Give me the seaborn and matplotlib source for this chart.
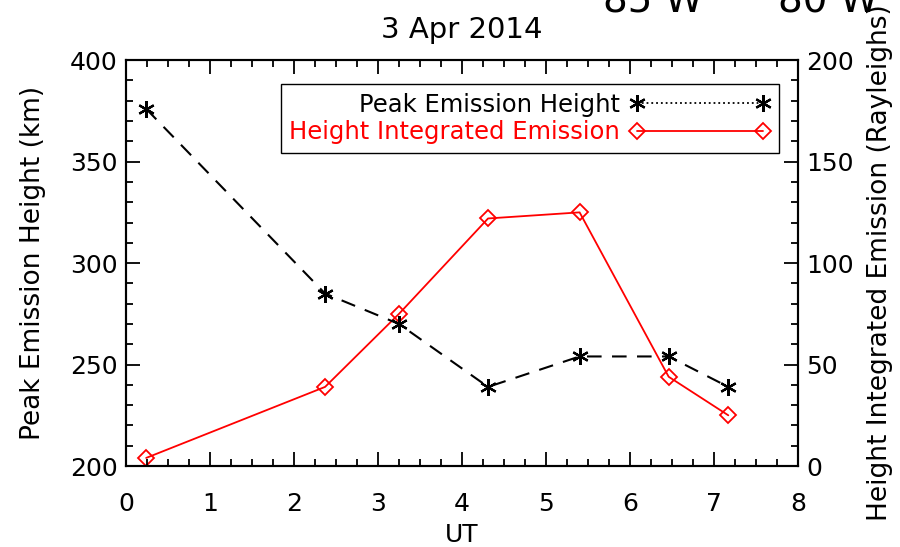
import numpy as np
import pandas as pd
import seaborn as sns
import matplotlib.pyplot as plt
from matplotlib.lines import Line2D
from matplotlib.ticker import MultipleLocator

# datos
ut = [0.24, 2.37, 3.25, 4.31, 5.40, 6.46, 7.17]
peak_height = [376, 285, 270, 239, 254, 254, 239]
integrated = [4, 39, 75, 122, 125, 44, 25]
title = "3 Apr 2014"
lon_labels = ["85 W", "80 W"]

df = pd.DataFrame({"UT": ut, "height": peak_height, "emission": integrated})

sns.set_theme(style="white")
plt.rcParams["font.family"] = ["DejaVu Sans"]
plt.rcParams["axes.edgecolor"] = "black"
plt.rcParams["axes.linewidth"] = 1.5
for k in ["text.color", "axes.labelcolor", "xtick.color", "ytick.color"]:
    plt.rcParams[k] = "black"

fig = plt.figure(figsize=(9, 5.47), dpi=100)
ax = fig.add_axes([0.14, 0.148, 0.7467, 0.742])
ax2 = ax.twinx()

asterisk = (6, 2, 0)
sns.lineplot(data=df, x="UT", y="height", ax=ax, color="black", marker=asterisk,
             markersize=12, markeredgecolor="black", markeredgewidth=1.6,
             linewidth=1.5)
ax.lines[0].set_dashes([7, 5])
sns.lineplot(data=df, x="UT", y="emission", ax=ax2, color="red", marker="D",
             markersize=8, markerfacecolor="none", markeredgecolor="red",
             markeredgewidth=1.3, linewidth=1.3)

ax.set_xlim(0, 8)
ax.set_ylim(200, 400)
ax2.set_ylim(0, 200)

ax.xaxis.set_major_locator(MultipleLocator(1))
ax.xaxis.set_minor_locator(MultipleLocator(0.25))
ax.yaxis.set_major_locator(MultipleLocator(50))
ax.yaxis.set_minor_locator(MultipleLocator(10))
ax2.yaxis.set_major_locator(MultipleLocator(50))
ax2.yaxis.set_minor_locator(MultipleLocator(10))

ax.tick_params(axis="x", which="both", direction="in", top=True, bottom=True,
               labelsize=18, pad=19)
ax.tick_params(axis="y", which="both", direction="in", left=True, right=False,
               labelsize=18, pad=6)
ax.tick_params(which="major", length=10, width=1.3)
ax.tick_params(which="minor", length=5, width=1.3)
ax2.tick_params(axis="y", which="both", direction="in", right=True, labelsize=18, pad=6)
ax2.tick_params(which="major", length=10, width=1.3)
ax2.tick_params(which="minor", length=5, width=1.3)

ax.set_xlabel("UT", fontsize=18, labelpad=5)
ax.set_ylabel("Peak Emission Height (km)", fontsize=19, labelpad=17)
ax2.set_ylabel("Height Integrated Emission (Rayleighs)", fontsize=19, labelpad=9)
ax.set_title(title, fontsize=21, pad=16)

for lab, xf in zip(lon_labels, [0.67, 0.865]):
    fig.text(xf, 0.978, lab, fontsize=28, ha="left", va="baseline")

handles = [
    Line2D([0], [0], color="black", linestyle=":", linewidth=1.3, marker=asterisk,
           markersize=12, markeredgecolor="black", markeredgewidth=1.6),
    Line2D([0], [0], color="red", linestyle="-", linewidth=1.3, marker="D",
           markersize=8, markerfacecolor="none", markeredgecolor="red",
           markeredgewidth=1.3),
]
leg = ax.legend(handles, ["Peak Emission Height", "Height Integrated Emission"],
                loc="upper right", bbox_to_anchor=(0.972, 0.941), markerfirst=False,
                numpoints=2, handlelength=5.8, fontsize=17.5, frameon=True,
                fancybox=False, framealpha=1, edgecolor="black", borderaxespad=0,
                borderpad=0.35, labelspacing=0.15, handletextpad=0.4)
leg.get_frame().set_linewidth(1.0)
leg.get_texts()[1].set_color("red")

ax.set_zorder(ax2.get_zorder() + 1)
ax.patch.set_visible(False)

fig.savefig("out.png", dpi=100)
